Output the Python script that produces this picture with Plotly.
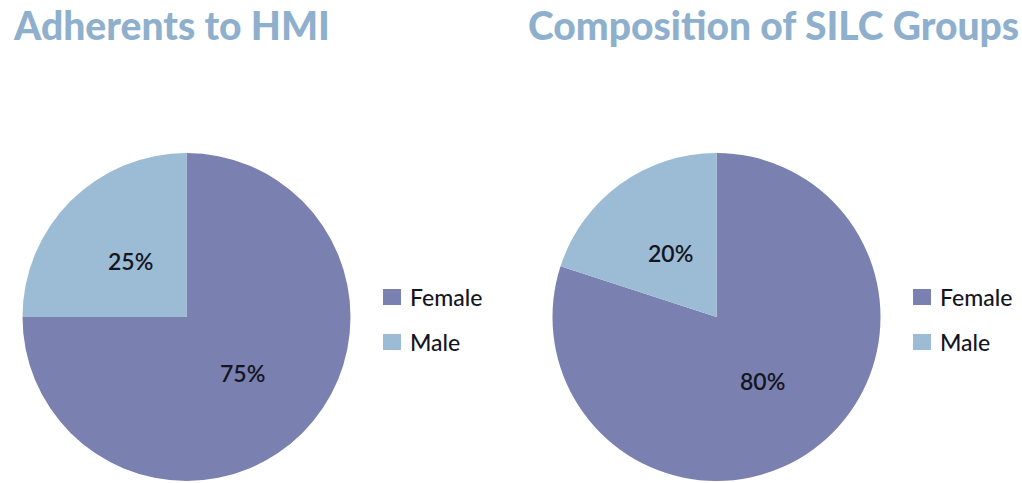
import math
import plotly.graph_objects as go

# Chart data
categories = ["Female", "Male"]
hmi_values = [75, 25]
silc_values = [80, 20]
titles = ["Adherents to HMI", "Composition of SILC Groups"]
colors = ["#7a80b0", "#9bbcd4"]

W, H = 1022, 483
FONT = "Lato"
TEXT_COLOR = "#15151f"

# Pie geometry in pixels: centre x, centre y (from top), radius
pies = [
    (hmi_values, 186.5, 317, 164),
    (silc_values, 716.5, 317, 164),
]

fig = go.Figure()

for vals, cx, cy, r in pies:
    fig.add_trace(go.Pie(
        labels=categories,
        values=vals,
        sort=False,
        direction="clockwise",
        rotation=0,
        marker=dict(colors=colors, line=dict(width=0)),
        textinfo="none",
        domain=dict(x=[(cx - r) / W, (cx + r) / W],
                    y=[1 - (cy + r) / H, 1 - (cy - r) / H]),
        showlegend=False,
        hoverinfo="label+percent",
    ))

    # Percentage labels at each slice's mid-angle
    total = sum(vals)
    start = 0.0
    for v in vals:
        frac = v / total
        mid = (start + frac / 2) * 2 * math.pi
        start += frac
        lx = cx + 0.48 * r * math.sin(mid)
        ly = cy - 0.48 * r * math.cos(mid)
        fig.add_annotation(
            x=lx / W, y=1 - ly / H, xref="paper", yref="paper",
            xanchor="center", yanchor="middle", showarrow=False,
            text=f"{round(frac * 100)}%",
            font=dict(family=FONT, size=23, color=TEXT_COLOR, weight=600),
        )

# Titles
title_x = [11, 526]
for tx, t in zip(title_x, titles):
    fig.add_annotation(
        x=tx / W, y=1 - 0 / H, xref="paper", yref="paper",
        xanchor="left", yanchor="top", showarrow=False,
        text=t, font=dict(family=FONT, size=39, color="#8fb0cc", weight=900),
    )

# Legends beside each pie, built from the category and colour lists
legend_x = [383, 913]
row_y = [297, 342]
for lx in legend_x:
    for cat, col, ry in zip(categories, colors, row_y):
        fig.add_shape(
            type="rect", xref="paper", yref="paper",
            x0=lx / W, x1=(lx + 18) / W,
            y0=1 - (ry + 8) / H, y1=1 - (ry - 8) / H,
            fillcolor=col, line=dict(width=0),
        )
        fig.add_annotation(
            x=(lx + 25) / W, y=1 - ry / H, xref="paper", yref="paper",
            xanchor="left", yanchor="middle", showarrow=False,
            text=cat, font=dict(family=FONT, size=23, color=TEXT_COLOR, weight=500),
        )

fig.update_layout(
    width=W, height=H,
    margin=dict(l=0, r=0, t=0, b=0),
    paper_bgcolor="white",
    plot_bgcolor="white",
    showlegend=False,
)

fig.write_html("out.html")
